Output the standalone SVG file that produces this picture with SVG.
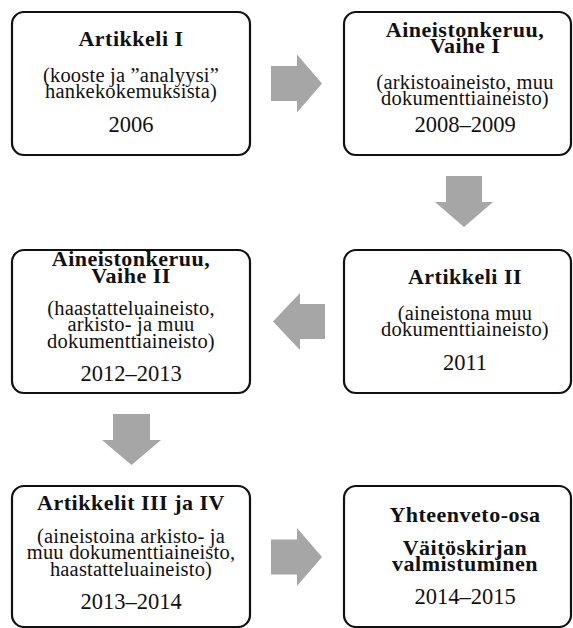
<svg xmlns="http://www.w3.org/2000/svg" width="573" height="628" viewBox="0 0 573 628">
<style>
.box{fill:#fff;stroke:#111;stroke-width:2.2}
.arr{fill:#a6a6a6}
text{font-family:"Liberation Serif","Times New Roman",serif;fill:#111;text-anchor:middle}
.t{font-weight:bold;font-size:22px;letter-spacing:0.5px}
.s{font-size:20.5px;letter-spacing:0.2px}
.y{font-size:22.5px}
</style>
<rect width="573" height="628" fill="#fff"/>
<g id="connectors">
<polygon class="arr" points="271,66 297,66 297,54.5 322,83.5 297,112.5 297,101 271,101"/>
<polygon class="arr" points="446,176 482,176 482,202 493,202 464,227 435,202 446,202"/>
<polygon class="arr" points="325,304 300,304 300,293 273,321.5 300,350 300,339 325,339"/>
<polygon class="arr" points="113,414 150,414 150,440 161,440 131.5,465 102,440 113,440"/>
<polygon class="arr" points="271,539.5 297,539.5 297,528 322,557 297,586 297,574.5 271,574.5"/>
</g>
<g id="n1">
<rect class="box" x="12" y="12" width="238" height="143" rx="12"/>
<text class="t" x="131" y="46">Artikkeli I</text>
<text class="s" x="131" y="81.5">(kooste ja ”analyysi”</text>
<text class="s" x="131" y="98">hankekokemuksista)</text>
<text class="y" x="131" y="132">2006</text>
</g>
<g id="n2">
<rect class="box" x="344" y="12" width="227" height="143" rx="12"/>
<text class="t" x="465" y="36.5">Aineistonkeruu,</text>
<text class="t" x="465" y="53">Vaihe I</text>
<text class="s" x="465" y="88.5">(arkistoaineisto, muu</text>
<text class="s" x="465" y="105">dokumenttiaineisto)</text>
<text class="y" x="465" y="132">2008–2009</text>
</g>
<g id="n3">
<rect class="box" x="12" y="250" width="238" height="143" rx="12"/>
<text class="t" x="131" y="266">Aineistonkeruu,</text>
<text class="t" x="131" y="283">Vaihe II</text>
<text class="s" x="131" y="314.5">(haastatteluaineisto,</text>
<text class="s" x="131" y="331">arkisto- ja muu</text>
<text class="s" x="131" y="347.5">dokumenttiaineisto)</text>
<text class="y" x="131" y="381">2012–2013</text>
</g>
<g id="n4">
<rect class="box" x="344" y="250" width="227" height="143" rx="12"/>
<text class="t" x="465" y="284">Artikkeli II</text>
<text class="s" x="465" y="319.5">(aineistona muu</text>
<text class="s" x="465" y="336">dokumenttiaineisto)</text>
<text class="y" x="465" y="370">2011</text>
</g>
<g id="n5">
<rect class="box" x="12" y="486" width="238" height="141" rx="12"/>
<text class="t" x="131" y="510">Artikkelit III ja IV</text>
<text class="s" x="131" y="542.5">(aineistoina arkisto- ja</text>
<text class="s" x="131" y="559">muu dokumenttiaineisto,</text>
<text class="s" x="131" y="575.5">haastatteluaineisto)</text>
<text class="y" x="131" y="609">2013–2014</text>
</g>
<g id="n6">
<rect class="box" x="344" y="486" width="227" height="141" rx="12"/>
<text class="t" x="465" y="522">Yhteenveto-osa</text>
<text class="t" x="465" y="554.5">Väitöskirjan</text>
<text class="t" x="465" y="571">valmistuminen</text>
<text class="y" x="465" y="604">2014–2015</text>
</g>
</svg>
